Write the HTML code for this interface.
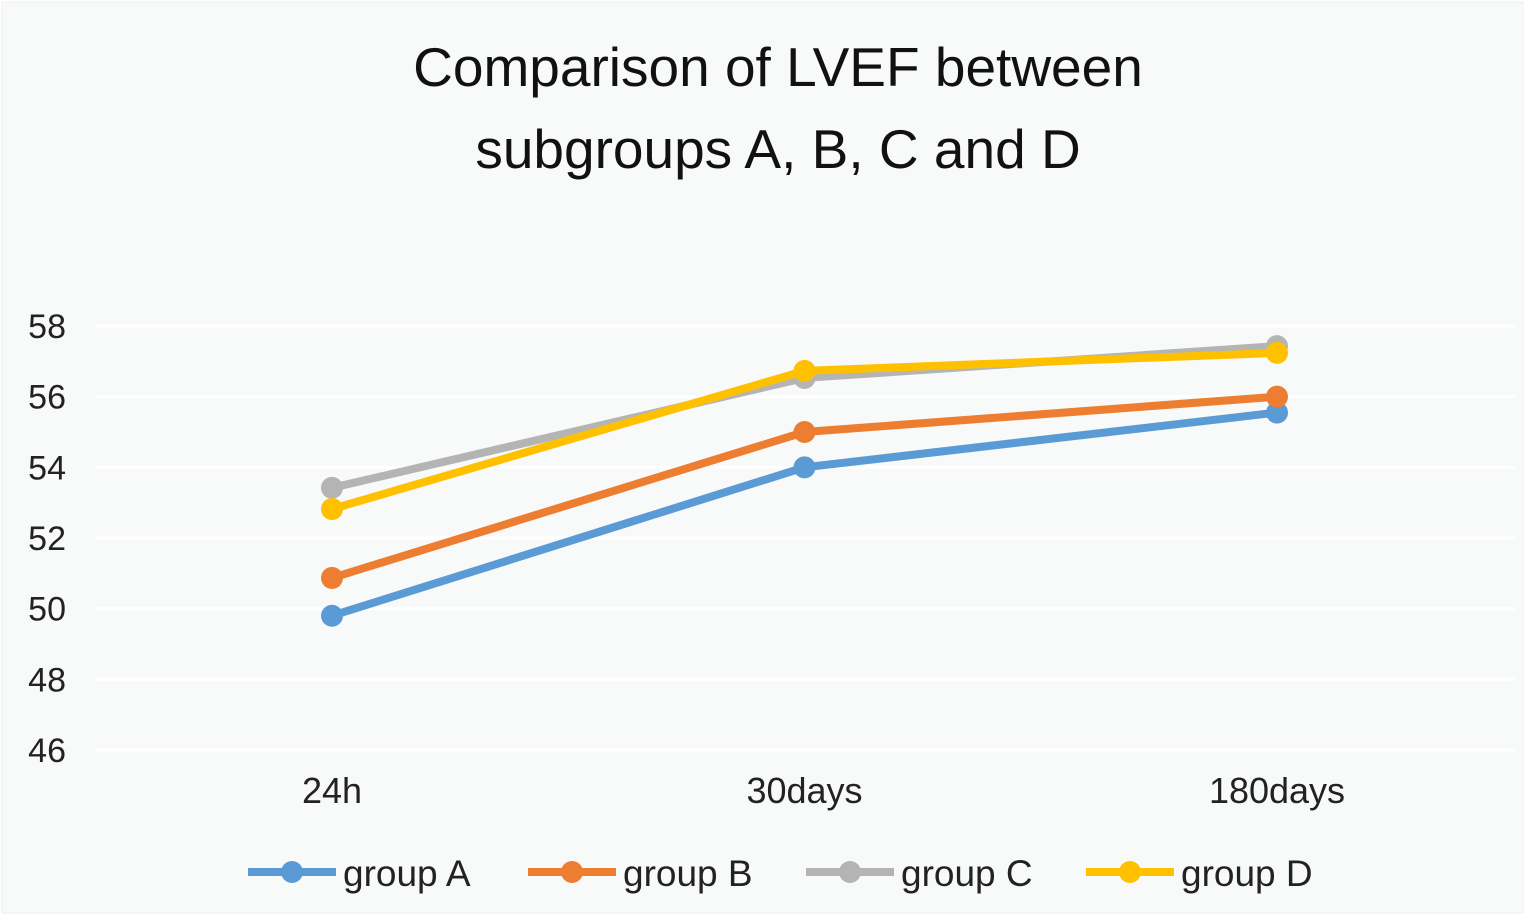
<!DOCTYPE html>
<html><head><meta charset="utf-8"><style>
html,body{margin:0;padding:0;background:#fff}
svg{display:block;font-family:"Liberation Sans",sans-serif}
</style></head><body>
<svg id="chart" width="1525" height="915">
<rect x="2" y="2" width="1521" height="911" fill="#f8f9f9" stroke="#eeeeee"/>
<text x="778" y="86" text-anchor="middle" font-size="55" fill="#111">Comparison of LVEF between</text>
<text x="778" y="168" text-anchor="middle" font-size="55" fill="#111">subgroups A, B, C and D</text>
<g id="grid"></g><g id="series"></g><g id="legend"></g>
</svg>
<script>
const categories=["24h","30days","180days"];
const yTicks=[46,48,50,52,54,56,58];
const seriesNames=["group A","group B","group C","group D"];
const seriesColors=["#5b9bd5","#ed7d31","#b4b4b4","#ffc000"];
const groupA=[49.8,54.0,55.55];
const groupB=[50.87,55.0,56.0];
const groupC=[53.42,56.53,57.43];
const groupD=[52.82,56.73,57.24];
const values=[groupA,groupB,groupC,groupD];
const NS="http://www.w3.org/2000/svg";
const yMin=46,yMax=58,yTop=326,yBot=750;
const y=v=>yBot-(v-yMin)/(yMax-yMin)*(yBot-yTop);
const x=i=>332+i*472.5;
function mk(tag,attrs,parent){const e=document.createElementNS(NS,tag);for(const k in attrs)e.setAttribute(k,attrs[k]);parent.appendChild(e);return e;}
const grid=document.getElementById('grid');
yTicks.forEach(t=>{
  const l=mk('line',{x1:96,x2:1515,y1:y(t),y2:y(t),stroke:'#ffffff','stroke-width':3},grid);
  
  
  const tx=mk('text',{x:66,y:y(t)+12,'text-anchor':'end','font-size':34,fill:'#222'},grid);
  tx.textContent=t;
  
  
});
categories.forEach((c,i)=>{
  const tx=mk('text',{x:x(i),y:803,'text-anchor':'middle','font-size':36,fill:'#222'},grid);
  tx.textContent=c;
  
  
});
const sg=document.getElementById('series');
values.forEach((vals,s)=>{
  const g=mk('g',{},sg);
  
  
  mk('polyline',{points:vals.map((v,i)=>x(i)+','+y(v)).join(' '),fill:'none',stroke:seriesColors[s],'stroke-width':8,'stroke-linejoin':'round'},g);
  vals.forEach((v,i)=>{
    const c=mk('circle',{cx:x(i),cy:y(v),r:11,fill:seriesColors[s]},g);
    
    
  });
});
const lg=document.getElementById('legend');
const legX=[248,528,806,1086];
seriesNames.forEach((n,s)=>{
  const g=mk('g',{},lg);
  
  
  mk('line',{x1:legX[s],x2:legX[s]+88,y1:872,y2:872,stroke:seriesColors[s],'stroke-width':8},g);
  mk('circle',{cx:legX[s]+44,cy:872,r:11,fill:seriesColors[s]},g);
  const t=mk('text',{x:legX[s]+95,y:886,'font-size':37,fill:'#222'},g);
  t.textContent=n;
});
</script>
</body></html>
